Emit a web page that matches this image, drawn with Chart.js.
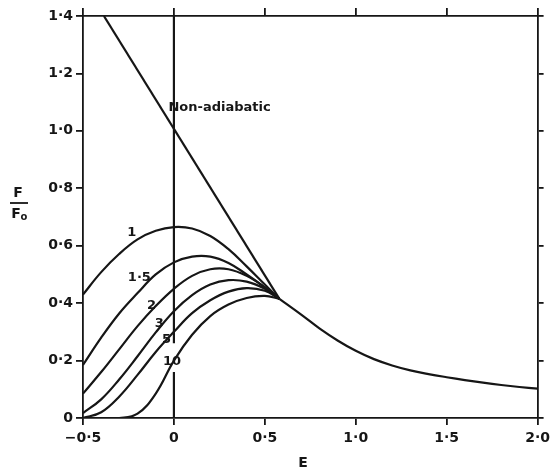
<!DOCTYPE html>
<html>
<head>
<meta charset="utf-8">
<script src="https://cdn.jsdelivr.net/npm/chart.js@4/dist/chart.umd.min.js"></script>
<style>
  html, body { margin: 0; padding: 0; background: #fff; }
  #wrap { width: 555px; height: 472px; position: relative; }
</style>
</head>
<body>
<div id="wrap"><canvas id="chart"></canvas></div>
<script>
// E values shared by the family of adiabatic curves (they all end where they join the envelope)
const energies = [-0.5, -0.4, -0.3, -0.2, -0.1, 0, 0.1, 0.2, 0.3, 0.4, 0.5, 0.58];
const curve1 = [0.43, 0.508, 0.572, 0.622, 0.652, 0.665, 0.66, 0.634, 0.588, 0.528, 0.465, 0.415];
const curve15 = [0.185, 0.28, 0.365, 0.435, 0.5, 0.542, 0.562, 0.562, 0.54, 0.5, 0.455, 0.415];
const curve2 = [0.085, 0.16, 0.24, 0.32, 0.39, 0.45, 0.495, 0.518, 0.518, 0.495, 0.455, 0.415];
const curve3 = [0.017, 0.065, 0.135, 0.215, 0.298, 0.372, 0.428, 0.465, 0.48, 0.475, 0.45, 0.415];
const curve5 = [0, 0.02, 0.075, 0.15, 0.23, 0.3, 0.365, 0.41, 0.44, 0.452, 0.443, 0.415];
const curve10 = [0, 0, 0, 0.015, 0.085, 0.2, 0.29, 0.355, 0.395, 0.418, 0.425, 0.415];
const curveNames = ['1', '1·5', '2', '3', '5', '10'];

// common tail for E beyond the junction
const tailE = [0.58, 0.7, 0.8, 0.9, 1.0, 1.1, 1.2, 1.3, 1.4, 1.5, 1.6, 1.7, 1.8, 1.9, 2.0];
const tailF = [0.415, 0.36, 0.312, 0.27, 0.234, 0.205, 0.183, 0.166, 0.153, 0.142, 0.132, 0.123, 0.115, 0.108, 0.102];

// non-adiabatic straight line
const nonAdE = [-0.385, 0.58];
const nonAdF = [1.4, 0.415];

// vertical line at E = 0 (gap where the "10" label sits)
const zeroLineE = [0, 0, 0, 0, 0];
const zeroLineF = [0, 0.16, null, 0.26, 1.4];

const xTicks = [-0.5, 0, 0.5, 1.0, 1.5, 2.0];
const yTicks = [0, 0.2, 0.4, 0.6, 0.8, 1.0, 1.2, 1.4];

const INK = '#161616';
const FONT = '"DejaVu Sans", sans-serif';

const pts = (xs, ys) => xs.map((x, i) => ({ x: x, y: ys[i] }));
const fmt = v => (v === 0 ? '0' : v.toFixed(1).replace('-', '\u2212').replace('.', '·'));

const family = [curve1, curve15, curve2, curve3, curve5, curve10];
const datasets = family.map((ys, i) => ({
  label: curveNames[i],
  data: pts(energies, ys),
  tension: 0.4
}));
datasets.push({ label: 'tail', data: pts(tailE, tailF), tension: 0.4 });
datasets.push({ label: 'Non-adiabatic', data: pts(nonAdE, nonAdF), tension: 0 });
datasets.push({ label: 'zero', data: pts(zeroLineE, zeroLineF), tension: 0, spanGaps: false });

// text placed in data coordinates
const notes = [
  { text: '1', x: -0.232, y: 0.645 },
  { text: '1·5', x: -0.19, y: 0.49 },
  { text: '2', x: -0.123, y: 0.393 },
  { text: '3', x: -0.08, y: 0.33 },
  { text: '5', x: -0.04, y: 0.272 },
  { text: '10', x: -0.01, y: 0.195 }
];

const annotate = {
  id: 'annotate',
  afterDraw(chart) {
    const { ctx, scales: { x, y } } = chart;
    ctx.save();
    ctx.fillStyle = INK;
    ctx.font = 'bold 13px ' + FONT;
    ctx.textAlign = 'center';
    ctx.textBaseline = 'middle';
    notes.forEach(n => ctx.fillText(n.text, x.getPixelForValue(n.x), y.getPixelForValue(n.y)));

    ctx.textAlign = 'left';
    ctx.fillText('Non-adiabatic', x.getPixelForValue(-0.03), y.getPixelForValue(1.08));

    // axis titles
    ctx.textAlign = 'center';
    ctx.font = 'bold 14px ' + FONT;
    ctx.fillText('E', 303, 463);
    ctx.fillText('F', 18, 193);
    ctx.fillText('F', 16, 214);
    ctx.font = 'bold 10px ' + FONT;
    ctx.fillText('o', 24, 217);
    ctx.lineWidth = 1.8;
    ctx.strokeStyle = INK;
    ctx.beginPath();
    ctx.moveTo(10, 203);
    ctx.lineTo(28, 203);
    ctx.stroke();
    ctx.restore();
  }
};

const edge = { display: true, color: INK, width: 1.8 };
const tickFont = { family: FONT, size: 14, weight: 'bold' };

new Chart(document.getElementById('chart'), {
  type: 'scatter',
  data: { datasets: datasets },
  options: {
    responsive: true,
    maintainAspectRatio: false,
    animation: false,
    layout: { padding: 0 },
    showLine: true,
    elements: {
      point: { radius: 0 },
      line: { borderColor: INK, borderWidth: 2.2, fill: false }
    },
    plugins: { legend: { display: false }, tooltip: { enabled: false } },
    scales: {
      x: {
        type: 'linear', min: -0.5, max: 2.0,
        afterBuildTicks: s => { s.ticks = xTicks.map(v => ({ value: v })); },
        afterFit: s => { s.height = 54; },
        border: edge,
        grid: { drawOnChartArea: false, drawTicks: true, tickLength: 7, color: INK, lineWidth: 1.8 },
        ticks: { color: INK, font: tickFont, padding: 5, callback: fmt }
      },
      x2: {
        type: 'linear', position: 'top', min: -0.5, max: 2.0,
        afterBuildTicks: s => { s.ticks = xTicks.map(v => ({ value: v })); },
        afterFit: s => { s.height = 16; },
        border: edge,
        grid: { drawOnChartArea: false, drawTicks: true, tickLength: 8, color: INK, lineWidth: 1.8 },
        ticks: { display: false }
      },
      y: {
        type: 'linear', min: 0, max: 1.4,
        afterBuildTicks: s => { s.ticks = yTicks.map(v => ({ value: v })); },
        afterFit: s => { s.width = 83; },
        border: edge,
        grid: { drawOnChartArea: false, drawTicks: true, tickLength: 7, color: INK, lineWidth: 1.8 },
        ticks: { color: INK, font: tickFont, padding: 3, callback: fmt }
      },
      y2: {
        type: 'linear', position: 'right', min: 0, max: 1.4,
        afterBuildTicks: s => { s.ticks = yTicks.map(v => ({ value: v })); },
        afterFit: s => { s.width = 11; },
        border: edge,
        grid: { drawOnChartArea: false, drawTicks: true, tickLength: 6, color: INK, lineWidth: 1.8 },
        ticks: { display: false }
      }
    }
  },
  plugins: [annotate]
});
</script>
</body>
</html>
